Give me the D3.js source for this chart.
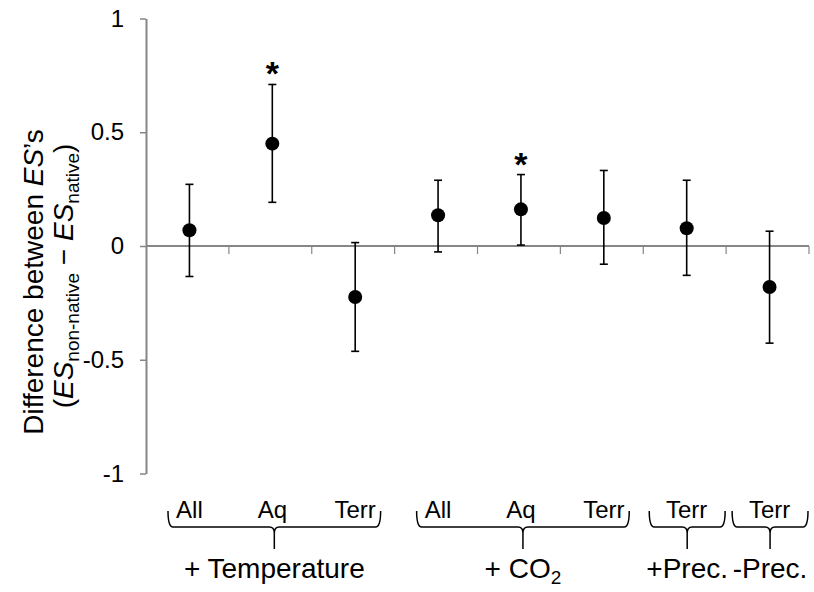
<!DOCTYPE html>
<html>
<head>
<meta charset="utf-8">
<script src="https://cdn.jsdelivr.net/npm/d3@7"></script>
<style>
  body { margin: 0; background: #fff; }
  svg { font-family: "Liberation Sans", Arial, sans-serif; }
</style>
</head>
<body>
<script>
// données
const categories = ["All", "Aq", "Terr", "All", "Aq", "Terr", "Terr", "Terr"];
const groups = ["+ Temperature", "+ CO2", "+Prec.", "-Prec."];
const groupSize = [3, 3, 1, 1];
const means = [0.069, 0.450, -0.224, 0.135, 0.161, 0.123, 0.078, -0.180];
const lower = [-0.134, 0.192, -0.463, -0.026, 0.004, -0.080, -0.129, -0.427];
const upper = [0.271, 0.710, 0.015, 0.289, 0.314, 0.332, 0.289, 0.065];
const signif = [false, true, false, false, true, false, false, false];
const yTicks = [-1, -0.5, 0, 0.5, 1];

const width = 814, height = 592;
const grey = "#868686";

const svg = d3.select("body").append("svg")
    .attr("width", width)
    .attr("height", height);

// échelles
const x = d3.scaleBand()
    .domain(d3.range(categories.length))
    .range([146, 809])
    .paddingInner(0).paddingOuter(0);

const y = d3.scaleLinear()
    .domain([-1, 1])
    .range([473.5, 18.5]);

// axe Y
const yAxis = svg.append("g")
    .attr("transform", "translate(146,0)")
    .call(d3.axisLeft(y).tickValues(yTicks).tickSize(6).tickSizeOuter(0).tickPadding(16)
        .tickFormat(d => String(d)));
yAxis.select(".domain").attr("stroke", grey).attr("stroke-width", 2);
yAxis.selectAll(".tick line").attr("stroke", grey).attr("stroke-width", 1.5);
yAxis.selectAll(".tick text")
    .attr("fill", "#000")
    .style("font-size", "24px")
    .style("font-family", "Liberation Sans, Arial, sans-serif");

// axe X (à zéro) avec les graduations entre catégories
svg.append("line")
    .attr("x1", x.range()[0]).attr("x2", x.range()[1])
    .attr("y1", y(0)).attr("y2", y(0))
    .attr("stroke", grey).attr("stroke-width", 2);

svg.selectAll(".xtick")
    .data(d3.range(categories.length))
    .enter()
    .append("line")
    .attr("class", "xtick")
    .attr("x1", i => x(i) + x.bandwidth())
    .attr("x2", i => x(i) + x.bandwidth())
    .attr("y1", y(0))
    .attr("y2", y(0) + 8)
    .attr("stroke", grey).attr("stroke-width", 1.2);

// barres d'erreur
const cx = i => x(i) + x.bandwidth() / 2 + 2;
const bars = svg.append("g").attr("stroke", "#000").attr("stroke-width", 1.6);
const idx = d3.range(means.length);

bars.selectAll(".err").data(idx).enter().append("line")
    .attr("x1", cx).attr("x2", cx)
    .attr("y1", i => y(lower[i])).attr("y2", i => y(upper[i]));
bars.selectAll(".capT").data(idx).enter().append("line")
    .attr("x1", i => cx(i) - 4).attr("x2", i => cx(i) + 4)
    .attr("y1", i => y(upper[i])).attr("y2", i => y(upper[i]));
bars.selectAll(".capB").data(idx).enter().append("line")
    .attr("x1", i => cx(i) - 4).attr("x2", i => cx(i) + 4)
    .attr("y1", i => y(lower[i])).attr("y2", i => y(lower[i]));

// points
svg.selectAll("circle")
    .data(idx)
    .enter()
    .append("circle")
    .attr("cx", cx)
    .attr("cy", i => y(means[i]))
    .attr("r", 7)
    .attr("fill", "#000");

// astérisques
svg.selectAll(".star")
    .data(idx.filter(i => signif[i]))
    .enter()
    .append("text")
    .attr("x", cx)
    .attr("y", i => y(upper[i]) + 1)
    .attr("text-anchor", "middle")
    .style("font-size", "34px")
    .style("font-weight", "bold")
    .text("*");

// étiquettes des catégories
svg.selectAll(".cat")
    .data(idx)
    .enter()
    .append("text")
    .attr("x", cx)
    .attr("y", 518)
    .attr("text-anchor", "middle")
    .style("font-size", "24px")
    .text(i => categories[i]);

// accolades + groupes
function brace(x0, x1, yTop) {
    const xm = (x0 + x1) / 2, yb = yTop + 16, tip = yTop + 38;
    return `M${x0},${yTop} Q${x0},${yb} ${x0 + 5},${yb} L${xm - 5},${yb} Q${xm},${yb} ${xm},${yb + 6} L${xm},${tip}` +
        ` M${xm},${yb + 6} Q${xm},${yb} ${xm + 5},${yb} L${x1 - 5},${yb} Q${x1},${yb} ${x1},${yTop}`;
}

let start = 0;
groups.forEach((g, k) => {
    const n = groupSize[k];
    const first = start, last = start + n - 1;
    const x0 = x(first) + (n > 1 ? 22 : 6);
    const x1 = x(last) + x.bandwidth() - (n > 1 ? 14 : 1);
    svg.append("path")
        .attr("d", brace(x0, x1, 511))
        .attr("fill", "none")
        .attr("stroke", "#000")
        .attr("stroke-width", 1.5);

    const t = svg.append("text")
        .attr("x", (x0 + x1) / 2)
        .attr("y", 578)
        .attr("text-anchor", "middle")
        .style("font-size", "28px");
    if (g === "+ CO2") {
        t.append("tspan").text("+ CO");
        t.append("tspan").attr("dy", 6).style("font-size", "19px").text("2");
    } else {
        t.text(g);
    }
    start += n;
});

// titre de l'axe Y
const ly = 282;
const l1 = svg.append("text")
    .attr("transform", `translate(43,${ly}) rotate(-90)`)
    .attr("text-anchor", "middle")
    .style("font-size", "28px");
l1.append("tspan").text("Difference between ");
l1.append("tspan").style("font-style", "italic").text("ES");
l1.append("tspan").text("’s");

const l2 = svg.append("text")
    .attr("transform", `translate(73,${ly - 6}) rotate(-90)`)
    .attr("text-anchor", "middle")
    .style("font-size", "28px");
l2.append("tspan").text("(");
l2.append("tspan").style("font-style", "italic").text("ES");
l2.append("tspan").attr("dy", 6).style("font-size", "19px").text("non-native");
l2.append("tspan").attr("dy", -6).text(" − ");
l2.append("tspan").style("font-style", "italic").text("ES");
l2.append("tspan").attr("dy", 6).style("font-size", "19px").text("native");
l2.append("tspan").attr("dy", -6).text(")");
</script>
</body>
</html>
